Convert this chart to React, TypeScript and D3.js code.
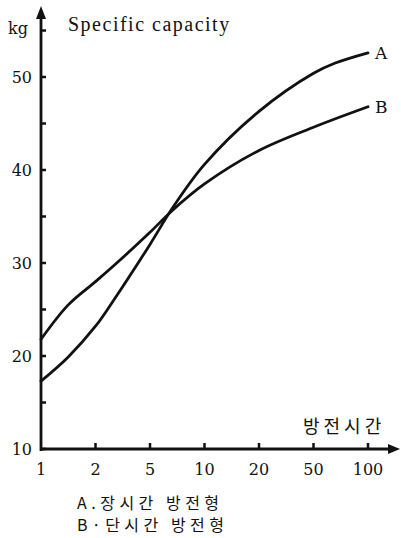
import React, { useRef, useEffect } from 'react';
import * as d3 from 'd3';

// discharge time (h) on the x axis, spaced evenly like the original drawing
const timeTicks = [1, 2, 5, 10, 20, 50, 100];
const capLabels = [10, 20, 30, 40, 50];
const capMinor = [15, 25, 35, 45, 55];

// A: long-time discharge type
const hoursA = [1, 1.5, 2, 3, 5, 7, 10, 20, 50, 70, 100];
const capacityA = [17.3, 19.9, 23.2, 26.0, 32.0, 35.8, 40.6, 46.3, 50.4, 51.5, 52.6];

// B: short-time discharge type
const hoursB = [1, 1.5, 2, 3, 5, 7, 10, 20, 50, 100];
const capacityB = [21.8, 25.5, 28.0, 29.7, 33.3, 35.6, 38.5, 42.1, 44.6, 46.8];

const legendLines = ['A.장시간 방전형', 'B·단시간 방전형'];

const W = 401;
const H = 538;
const serif = '"DejaVu Serif", serif';
const kr = '"Noto Sans CJK KR", sans-serif';

const Chart = () => {
    const ref = useRef<SVGSVGElement>(null);

    useEffect(() => {
        const svg = d3.select(ref.current)
            .attr('width', W)
            .attr('height', H)
            .style('background-color', 'white');

        svg.select('g').remove();
        const g = svg.append('g');

        const x = d3.scaleLinear()
            .domain(timeTicks)
            .range(timeTicks.map((_, i) => 41 + i * 54.5));
        const y = d3.scaleLinear().domain([10, 50]).range([449, 77]);

        const ink = '#111';

        // axes
        g.append('line')
            .attr('x1', x(1)).attr('y1', y(10) + 2)
            .attr('x2', x(1)).attr('y2', 14)
            .attr('stroke', ink).attr('stroke-width', 2.8);
        g.append('path')
            .attr('d', `M${x(1)},6 L${x(1) - 5},19 L${x(1) + 5},19 Z`)
            .attr('fill', ink);

        g.append('line')
            .attr('x1', x(1) - 1).attr('y1', y(10))
            .attr('x2', 393).attr('y2', y(10))
            .attr('stroke', ink).attr('stroke-width', 2.8);
        g.append('path')
            .attr('d', `M400,${y(10)} L388,${y(10) - 5} L388,${y(10) + 5} Z`)
            .attr('fill', ink);

        // y ticks
        g.selectAll('.ytick')
            .data([...capLabels, ...capMinor])
            .enter()
            .append('line')
            .attr('x1', x(1)).attr('x2', x(1) + 5)
            .attr('y1', d => y(d)).attr('y2', d => y(d))
            .attr('stroke', ink).attr('stroke-width', 2.5);

        g.selectAll('.ylab')
            .data(capLabels)
            .enter()
            .append('text')
            .attr('x', 32)
            .attr('y', d => y(d) + 6)
            .attr('text-anchor', 'end')
            .style('font-family', serif)
            .style('font-size', '16px')
            .attr('fill', ink)
            .text(d => d);

        // x ticks
        g.selectAll('.xtick')
            .data(timeTicks.slice(1))
            .enter()
            .append('line')
            .attr('x1', d => x(d)).attr('x2', d => x(d))
            .attr('y1', y(10)).attr('y2', y(10) - 6)
            .attr('stroke', ink).attr('stroke-width', 2.5);

        g.selectAll('.xlab')
            .data(timeTicks)
            .enter()
            .append('text')
            .attr('x', d => x(d))
            .attr('y', 475)
            .attr('text-anchor', 'middle')
            .style('font-family', serif)
            .style('font-size', '16px')
            .attr('fill', ink)
            .text(d => d);

        // curves
        const line = d3.line<[number, number]>()
            .x(d => x(d[0]))
            .y(d => y(d[1]))
            .curve(d3.curveCatmullRom.alpha(0.5));

        const series = [
            { name: 'A', pts: hoursA.map((h, i) => [h, capacityA[i]] as [number, number]) },
            { name: 'B', pts: hoursB.map((h, i) => [h, capacityB[i]] as [number, number]) },
        ];

        g.selectAll('.curve')
            .data(series)
            .enter()
            .append('path')
            .attr('d', d => line(d.pts))
            .attr('fill', 'none')
            .attr('stroke', ink)
            .attr('stroke-width', 2.8)
            .attr('stroke-linecap', 'round');

        g.selectAll('.clab')
            .data(series)
            .enter()
            .append('text')
            .attr('x', d => x(d.pts[d.pts.length - 1][0]) + 7)
            .attr('y', d => y(d.pts[d.pts.length - 1][1]) + 6)
            .style('font-family', serif)
            .style('font-size', '17px')
            .attr('fill', ink)
            .text(d => d.name);

        // titles
        g.append('text')
            .attr('x', 8).attr('y', 34)
            .style('font-family', serif)
            .style('font-size', '16px')
            .attr('fill', ink)
            .text('kg');

        g.append('text')
            .attr('x', 68).attr('y', 31)
            .style('font-family', '"Liberation Serif", serif')
            .style('font-size', '20px')
            .style('letter-spacing', '1.5px')
            .attr('fill', ink)
            .text('Specific capacity');

        g.append('text')
            .attr('x', 303).attr('y', 433)
            .style('font-family', kr)
            .style('font-size', '18px')
            .style('letter-spacing', '4px')
            .attr('fill', ink)
            .text('방전시간');

        g.selectAll('.legend')
            .data(legendLines)
            .enter()
            .append('text')
            .attr('x', 77)
            .attr('y', (_, i) => 509 + i * 22)
            .style('font-family', kr)
            .style('font-size', '16px')
            .style('letter-spacing', '4.5px')
            .style('white-space', 'pre')
            .attr('fill', ink)
            .text(d => d);
    }, []);

    return <svg ref={ref} style={{ position: 'absolute', left: 0, top: 0, display: 'block' }}></svg>;
};

export default function App() {
    return <Chart />;
}
